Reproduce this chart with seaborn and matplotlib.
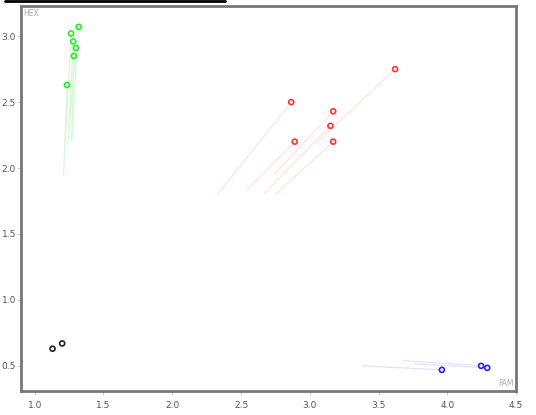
import seaborn as sns
import matplotlib.pyplot as plt
from matplotlib.lines import Line2D
import pandas as pd

# point positions (FAM, HEX) and where each faint tail starts
groups = ["green"] * 6 + ["red"] * 6 + ["blue"] * 3 + ["black"] * 2
fam = [1.32, 1.265, 1.28, 1.30, 1.285, 1.235,
       2.865, 2.89, 3.17, 3.15, 3.17, 3.62,
       3.96, 4.245, 4.29,
       1.13, 1.20]
hex_ = [3.07, 3.02, 2.96, 2.91, 2.85, 2.63,
        2.50, 2.20, 2.43, 2.32, 2.20, 2.75,
        0.47, 0.50, 0.485,
        0.63, 0.67]
tail_fam = [1.27, 1.22, 1.25, 1.24, 1.27, 1.21,
            2.33, 2.54, 2.74, 2.67, 2.75, 3.05,
            3.38, 3.68, 3.76,
            None, None]
tail_hex = [2.20, 2.15, 2.30, 2.18, 2.25, 1.94,
            1.80, 1.83, 1.95, 1.81, 1.80, 2.19,
            0.50, 0.54, 0.515,
            None, None]

colors = {"green": "#22ee22", "red": "#ff3333", "blue": "#2222ff", "black": "#222222"}
tail_colors = {"green": "#d8f8d8", "red": "#ffe2e2", "blue": "#e2e2ff"}

df = pd.DataFrame({"group": groups, "FAM": fam, "HEX": hex_,
                   "tx": tail_fam, "ty": tail_hex})

sns.set_style("white")
fig = plt.figure(figsize=(5.36, 4.15), dpi=100)
ax = fig.add_axes([0.039, 0.058, 0.924, 0.928])

# faint tails
for _, r in df.dropna().iterrows():
    ax.plot([r.tx, r.FAM], [r.ty, r.HEX], color=tail_colors[r.group], lw=0.9, zorder=1)

for g, sub in df.groupby("group", sort=False):
    sns.scatterplot(data=sub, x="FAM", y="HEX", ax=ax, marker="o", s=13,
                    facecolor="none", edgecolor=colors[g], linewidth=1.2, zorder=3)

ax.set_xlim(0.9, 4.42)
ax.set_ylim(0.31, 3.23)
ax.set_xticks([1.0, 1.5, 2.0, 2.5, 3.0, 3.5, 4.0, 4.5])
ax.set_yticks([0.5, 1.0, 1.5, 2.0, 2.5, 3.0])
ax.set_xlabel("")
ax.set_ylabel("")
ax.tick_params(colors="#aaaaaa", labelcolor="#555555", labelsize=6.5, length=2,
               width=0.6, direction="out", bottom=True, left=True, pad=1.5)
ax.tick_params(axis="x", pad=5)
for s in ax.spines.values():
    s.set_color("#777777")
    s.set_linewidth(2)

ax.text(0.005, 0.993, "HEX", transform=ax.transAxes, ha="left", va="top",
        fontsize=5.5, color="#aaaaaa")
ax.text(0.995, 0.007, "FAM", transform=ax.transAxes, ha="right", va="bottom",
        fontsize=5.5, color="#aaaaaa")

# black bar across the top left
fig.add_artist(Line2D([0.01, 0.42], [0.9975, 0.9975], color="black", lw=2,
                      transform=fig.transFigure))

fig.savefig("out.png", dpi=100)
